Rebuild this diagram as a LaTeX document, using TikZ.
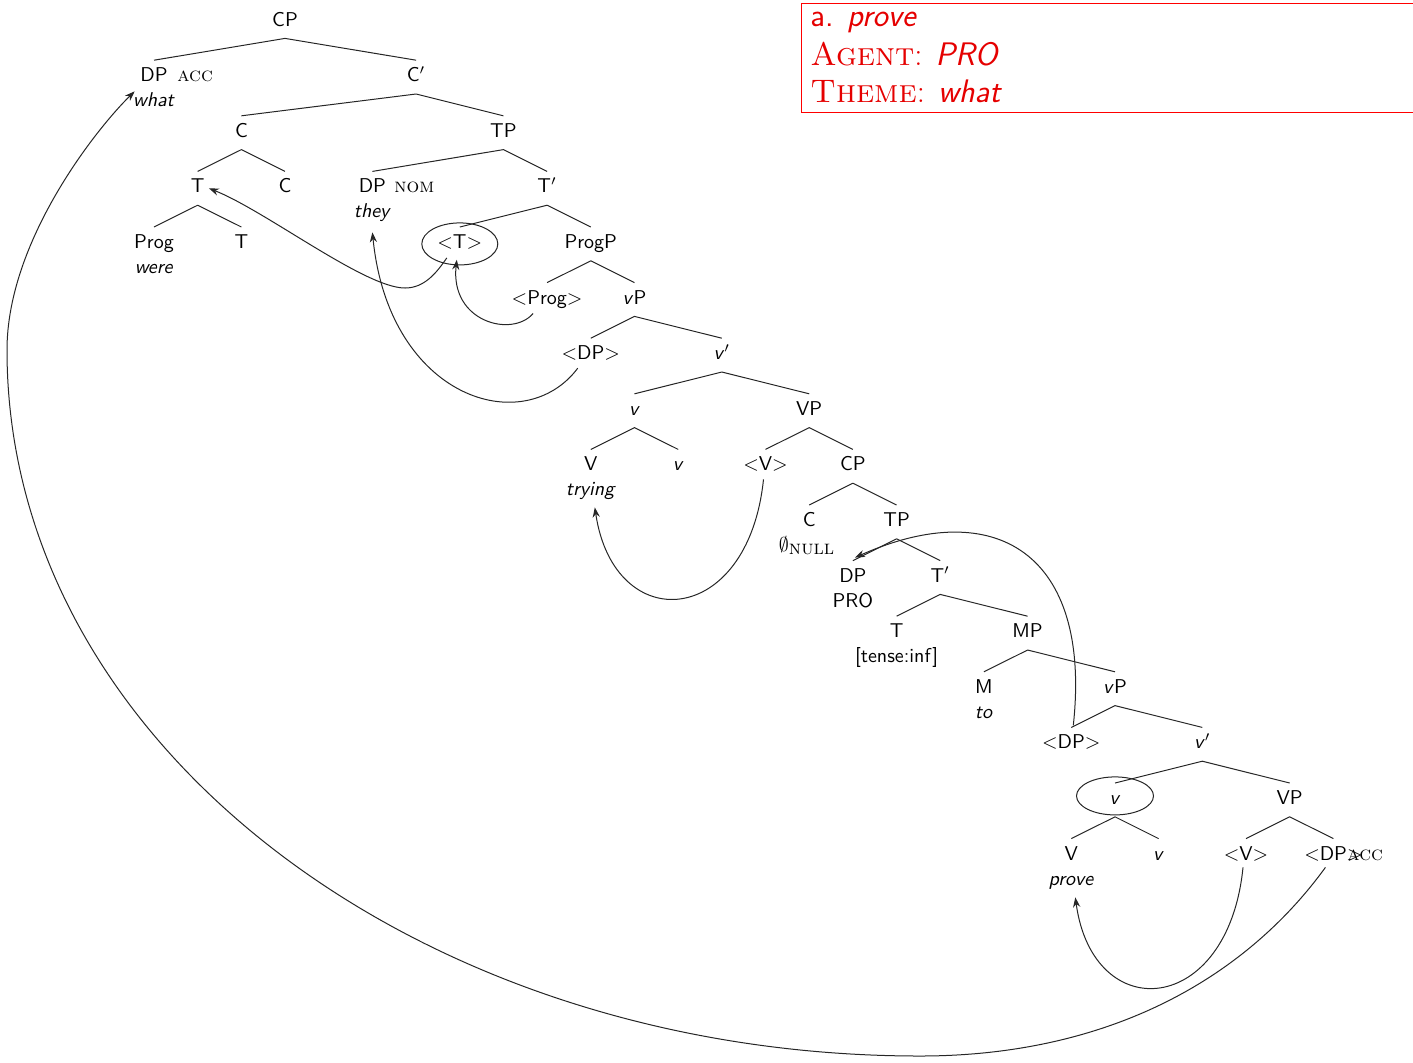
\documentclass[tikz,border=0pt]{standalone}
\usetikzlibrary{arrows.meta}
\begin{document}
\begin{tikzpicture}[x=0.5pt,y=-0.5pt,
  n/.style={anchor=base,inner xsep=2pt,inner ysep=3.5pt,text height=7pt,text depth=2.5pt,font=\sffamily},
  sub/.style={anchor=base,inner sep=0pt,font=\sffamily},
  fe/.style={anchor=base west,inner sep=0pt,font=\rmfamily\scshape},
  br/.style={line width=0.5pt,draw=black!85},
  mv/.style={line width=0.5pt,draw=black!85,-{Stealth[length=5pt,width=3.6pt]}},
  redtxt/.style={anchor=base west,inner sep=0pt,text=red!90!black,font=\fontsize{16.3}{19}\selectfont}]
\useasboundingbox (0,0) rectangle (1413,1062);
% ---- tree nodes ----
\node[n] (cp0) at (285.0,26) {CP};
\node[n] (dpa) at (154,81.6) {DP};
\node[fe] (acc1) at (177,81.6) {acc};
\node[sub] (what) at (154,106.6) {\textit{what}};
\node[n] (cbar) at (416.1,81.6) {C$'$};
\node[n] (c2) at (241.4,137.2) {C};
\node[n] (tp2) at (503.4,137.2) {TP};
\node[n] (t3) at (197.7,192.8) {T};
\node[n] (c3) at (285.0,192.8) {C};
\node[n] (dpn) at (372.4,192.8) {DP};
\node[fe] (nom) at (394,192.8) {nom};
\node[sub] (they) at (372.4,217.8) {\textit{they}};
\node[n] (tbar3) at (547.1,192.8) {T$'$};
\node[n] (prog) at (154,248.4) {Prog};
\node[sub] (were) at (154,273.4) {\textit{were}};
\node[n] (t4) at (241.4,248.4) {T};
\node[n] (tt) at (459.8,248.4) {$<$T$>$};
\node[n] (progp) at (590.8,248.4) {ProgP};
\node[n] (progt) at (547.1,304) {$<$Prog$>$};
\node[n] (vp5) at (634.5,304) {\textit{v}P};
\node[n] (dpt6) at (590.8,359.6) {$<$DP$>$};
\node[n] (vbar6) at (721.8,359.6) {\textit{v}$'$};
\node[n] (v7) at (634.5,415.2) {\textit{v}};
\node[n] (vp7) at (809.2,415.2) {VP};
\node[n] (V8) at (590.8,470.8) {V};
\node[sub] (trying) at (590.8,495.8) {\textit{trying}};
\node[n] (v8) at (678.2,470.8) {\textit{v}};
\node[n] (Vt8) at (765.5,470.8) {$<$V$>$};
\node[n] (cp8) at (852.9,470.8) {CP};
\node[n] (c9) at (809.2,526.4) {C};
\node[sub] (null) at (807,551.4) {$\emptyset_{\mbox{\rmfamily\scshape null}}$};
\node[n] (tp9) at (896.6,526.4) {TP};
\node[n] (dp10) at (852.9,582) {DP};
\node[sub] (pro) at (852.9,607) {PRO};
\node[n] (tbar10) at (940.2,582) {T$'$};
\node[n] (t11) at (896.6,637.6) {T};
\node[sub] (tense) at (896.6,662.6) {[tense:inf]};
\node[n] (mp11) at (1027.6,637.6) {MP};
\node[n] (m12) at (983.9,693.2) {M};
\node[sub] (to) at (983.9,718.2) {\textit{to}};
\node[n] (vp12) at (1115.0,693.2) {\textit{v}P};
\node[n] (dpt13) at (1071.3,748.8) {$<$DP$>$};
\node[n] (vbar13) at (1202.3,748.8) {\textit{v}$'$};
\node[n] (v14) at (1115.0,804.4) {\textit{v}};
\node[n] (vp14) at (1289.7,804.4) {VP};
\node[n] (V15) at (1071.3,860) {V};
\node[sub] (prove) at (1071.3,885) {\textit{prove}};
\node[n] (v15) at (1158.6,860) {\textit{v}};
\node[n] (Vt15) at (1246.0,860) {$<$V$>$};
\node[n] (dpt15) at (1333.4,860) {$<$DP$>$};
\node[fe] (acc2) at (1347,860) {acc};
% ---- branches ----
\foreach \p/\a/\b in {cp0/dpa/cbar, cbar/c2/tp2, c2/t3/c3, tp2/dpn/tbar3, t3/prog/t4,
  tbar3/tt/progp, progp/progt/vp5, vp5/dpt6/vbar6, vbar6/v7/vp7, v7/V8/v8, vp7/Vt8/cp8,
  cp8/c9/tp9, tp9/dp10/tbar10, tbar10/t11/mp11, mp11/m12/vp12, vp12/dpt13/vbar13,
  vbar13/v14/vp14, v14/V15/v15, vp14/Vt15/dpt15}
  {\draw[br] (\p.south) -- (\a.north) (\p.south) -- (\b.north);}
% ---- circles ----
\draw[br] (tt.center) ellipse [x radius=38, y radius=21];
\draw[br] ([shift={(0,-4)}]v14.center) ellipse [x radius=38.5, y radius=19];
% ---- movement arrows ----
\draw[mv] ([shift={(-13,14)}]tt.center) .. controls (437,272) and (425,288) .. (405,288)
  .. controls (365,288) and (266,211) .. (t3.east);
\draw[mv] ([shift={(-14,14)}]progt.center) .. controls (512,338) and (450,322) .. ([shift={(-3,-1)}]tt.south);
\draw[mv] ([shift={(-13,13)}]dpt6.center) .. controls (524,440) and (389,399) .. ([shift={(0,10)}]they.south);
\draw[mv] ([shift={(-2,13)}]Vt8.center) .. controls (748,629) and (614,637) .. ([shift={(4,7)}]trying.south);
\draw[mv] ([shift={(2,-2)}]dpt13.north) .. controls (1092,553) and (995,495) .. ([shift={(2,-3)}]dp10.north);
\draw[mv] ([shift={(-3,-5)}]Vt15.south) .. controls (1228,1017) and (1093,1027) .. ([shift={(4,8)}]prove.south);
\draw[mv] ([shift={(-8,-5)}]dpt15.south) .. controls (1240,985) and (1100,1056) .. (920,1056)
  .. controls (420,1056) and (7,745) .. (7,350)
  .. controls (7,240) and (98,127) .. ([shift={(2,-1)}]what.north west);
% ---- red box ----
\draw[red, line width=0.4pt] (1413,3) -- (801,3) -- (801,112) -- (1413,112);
\node[redtxt] (ex) at (810,26) {\sffamily a. \textit{prove}};
\node[redtxt] (ag) at (810,65) {\textsc{Agent}: \sffamily\textit{PRO}};
\node[redtxt] (th) at (810,102) {\textsc{Theme}: \sffamily\textit{what}};
\end{tikzpicture}
\end{document}
